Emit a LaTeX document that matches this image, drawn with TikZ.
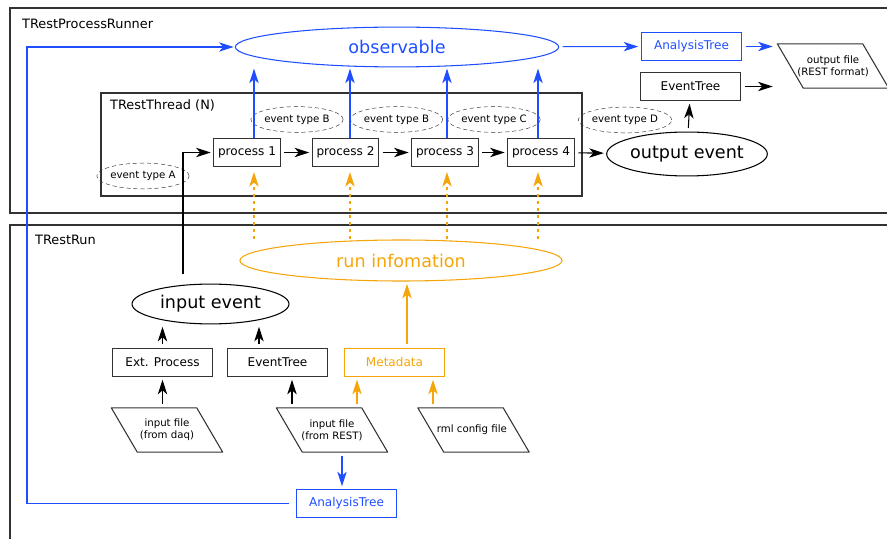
\documentclass[tikz,border=0pt]{standalone}
\usepackage{fontspec}
\setmainfont{DejaVu Sans}
\usepackage{xcolor}
\usepackage{tikz}
\usetikzlibrary{positioning,shapes.geometric,arrows.meta,calc}

\definecolor{obsblue}{RGB}{30,78,255}
\definecolor{runorange}{RGB}{245,165,10}
\definecolor{framegray}{RGB}{50,50,50}

\begin{document}
\begin{tikzpicture}[x = 0.03cm, y = -0.03cm,
  frame/.style = {draw = framegray, line width = 1.1pt},
  box/.style = {draw = framegray, line width = 0.9pt, minimum width = 86pt,
    minimum height = 24.5pt, inner sep = 1pt, font = \fontsize{10.3}{12}\selectfont},
  procbox/.style = {box, minimum width = 57pt},
  bigoval/.style = {draw, ellipse, line width = 0.9pt, inner sep = 0pt,
    font = \fontsize{15}{18}\selectfont},
  typeoval/.style = {draw = framegray, dash pattern = on 3.5pt off 2.5pt, ellipse, inner sep = 0pt,
    minimum width = 63pt, minimum height = 22pt, font = \fontsize{8.7}{10}\selectfont},
  filebox/.style = {minimum width = 72.5pt, minimum height = 37.5pt,
    inner sep = 0pt, align = center, font = \fontsize{8.7}{10.5}\selectfont},
  fileline/.style = {draw = framegray, line width = 0.9pt, line join = round},
  arr/.style = {line width = 0.9pt, -{Stealth[length = 12.5pt, width = 8pt, inset = 3.5pt]},
    shorten < = 3pt, shorten > = 2pt},
  barr/.style = {arr, obsblue},
  oarr/.style = {arr, runorange}
]
  \useasboundingbox (0, 0) rectangle (887, 539);

  \draw[frame] (887, 8) -- (10, 8) -- (10, 213) -- (887, 213);
  \draw[frame] (887, 225) -- (10, 225) -- (10, 539);
  \draw[frame] (101, 93) rectangle (582, 196);

  \node[anchor = west, font = \fontsize{11}{13}\selectfont] (runnerlbl) at (18, 24){
    TRestProcessRunner
  };

  \node[anchor = west, font = \fontsize{11}{13}\selectfont] (threadlbl) at (106, 105){
    TRestThread (N)
  };

  \node[anchor = west, font = \fontsize{11}{13}\selectfont] (runlbl) at (31, 240){
    TRestRun
  };

  \node[bigoval, obsblue, minimum width = 276pt, minimum height = 34pt] (obs) at (397, 47){
    observable
  };

  \node[box, obsblue] (atreetop) at (691.5, 46.5){
    AnalysisTree
  };

  \node[box] (evtreetop) at (690.5, 86.5){
    EventTree
  };

  \node[filebox] (outfile) at (833, 66){
    output file\\(REST format)
  };

  \node[bigoval, minimum width = 133pt, minimum height = 37.5pt] (outev) at (687, 154){
    output event
  };

  \node[typeoval] (typeD) at (625, 120){
    event type D
  };

  \node[procbox] (p1) at (247, 152.5){
    process 1
  };

  \node[procbox] (p2) at (345.5, 152.5){
    process 2
  };

  \node[procbox] (p3) at (445, 152.5){
    process 3
  };

  \node[procbox] (p4) at (541, 152.5){
    process 4
  };

  \node[typeoval] (typeA) at (143, 176){
    event type A
  };

  \node[typeoval] (typeB1) at (297, 119.5){
    event type B
  };

  \node[typeoval] (typeB2) at (396.5, 119.5){
    event type B
  };

  \node[typeoval] (typeC) at (494, 119.5){
    event type C
  };

  \node[bigoval, runorange, minimum width = 275pt, minimum height = 35pt] (runinfo) at (401, 260.5){
    run infomation
  };

  \node[bigoval, minimum width = 134pt, minimum height = 34pt] (inev) at (210.5, 304){
    input event
  };

  \node[box] (ext) at (162.5, 362.5){
    Ext. Process
  };

  \node[box] (evtreebot) at (277.5, 362.5){
    EventTree
  };

  \node[box, runorange] (meta) at (394.5, 362.5){
    Metadata
  };

  \node[filebox] (daq) at (167, 430){
    input file\\(from daq)
  };

  \node[filebox] (rest) at (332, 430){
    input file\\(from REST)
  };

  \node[filebox] (rml) at (473.5, 430){
    rml config file
  };

  \node[box, obsblue] (atreebot) at (346.5, 503.5){
    AnalysisTree
  };

  \coordinate (loopx) at (27, 0);

  % slanted file outlines
  \foreach \f in {outfile, daq, rest, rml}{
    \draw[fileline] ($(\f.north west) + (-13, 0)$) -- ($(\f.north east) + (-13, 0)$)
      -- ($(\f.south east) + (13, 0)$) -- ($(\f.south west) + (13, 0)$) -- cycle;
  }

  % thread chain
  \draw[arr] ($(inev.north) + (-27.5, -6)$) |- (p1.west);
  \draw[arr] (p1) -- (p2);
  \draw[arr] (p2) -- (p3);
  \draw[arr] (p3) -- (p4);
  \draw[arr] (p4) -- (outev);
  \draw[arr] (outev) -- (evtreetop);
  \draw[arr, shorten > = 15pt] (evtreetop) -- (evtreetop -| outfile.west);

  \foreach \p/\dx in {p1/7, p2/4.5, p3/2, p4/-3}{
    \draw[barr, shorten < = 0pt, shorten > = 1pt] ($(\p.north) + (\dx, 0)$) -- ($(\p.north |- obs.south) + (\dx, 0)$);
    \draw[oarr, dashed, shorten < = 0pt, shorten > = 4pt] ($(\p.south |- runinfo.north) + (\dx, 0)$) -- ($(\p.south) + (\dx, 0)$);
  }

  \draw[barr] (obs) -- (atreetop);
  \draw[barr, shorten > = 15pt] (atreetop) -- (atreetop -| outfile.west);
  \draw[barr, shorten < = 6pt, shorten > = 1pt] (atreebot.west) -- (atreebot.west -| loopx) |- (obs.west);

  % run inputs
  \draw[arr] (ext) -- (ext.north |- inev.south);
  \draw[arr] ($(evtreebot.north) + (-18.5, 0)$) -- ($(evtreebot.north |- inev.south) + (-18.5, 0)$);
  \draw[oarr] ($(meta.north) + (12.5, 0)$) -- ($(meta.north |- runinfo.south) + (12.5, 0)$);
  \draw[arr] (ext.south |- daq.north) -- (ext.south);
  \draw[arr] ($(evtreebot.south |- rest.north) + (14.5, 0)$) -- ($(evtreebot.south) + (14.5, 0)$);
  \draw[oarr] ($(meta.south |- rest.north) + (-37.5, 0)$) -- ($(meta.south) + (-37.5, 0)$);
  \draw[oarr] ($(meta.south |- rml.north) + (38.5, 0)$) -- ($(meta.south) + (38.5, 0)$);
  \draw[barr] ($(rest.south) + (10, 0)$) -- ($(atreebot.north) + (-4.5, 0)$);
\end{tikzpicture}
\end{document}
